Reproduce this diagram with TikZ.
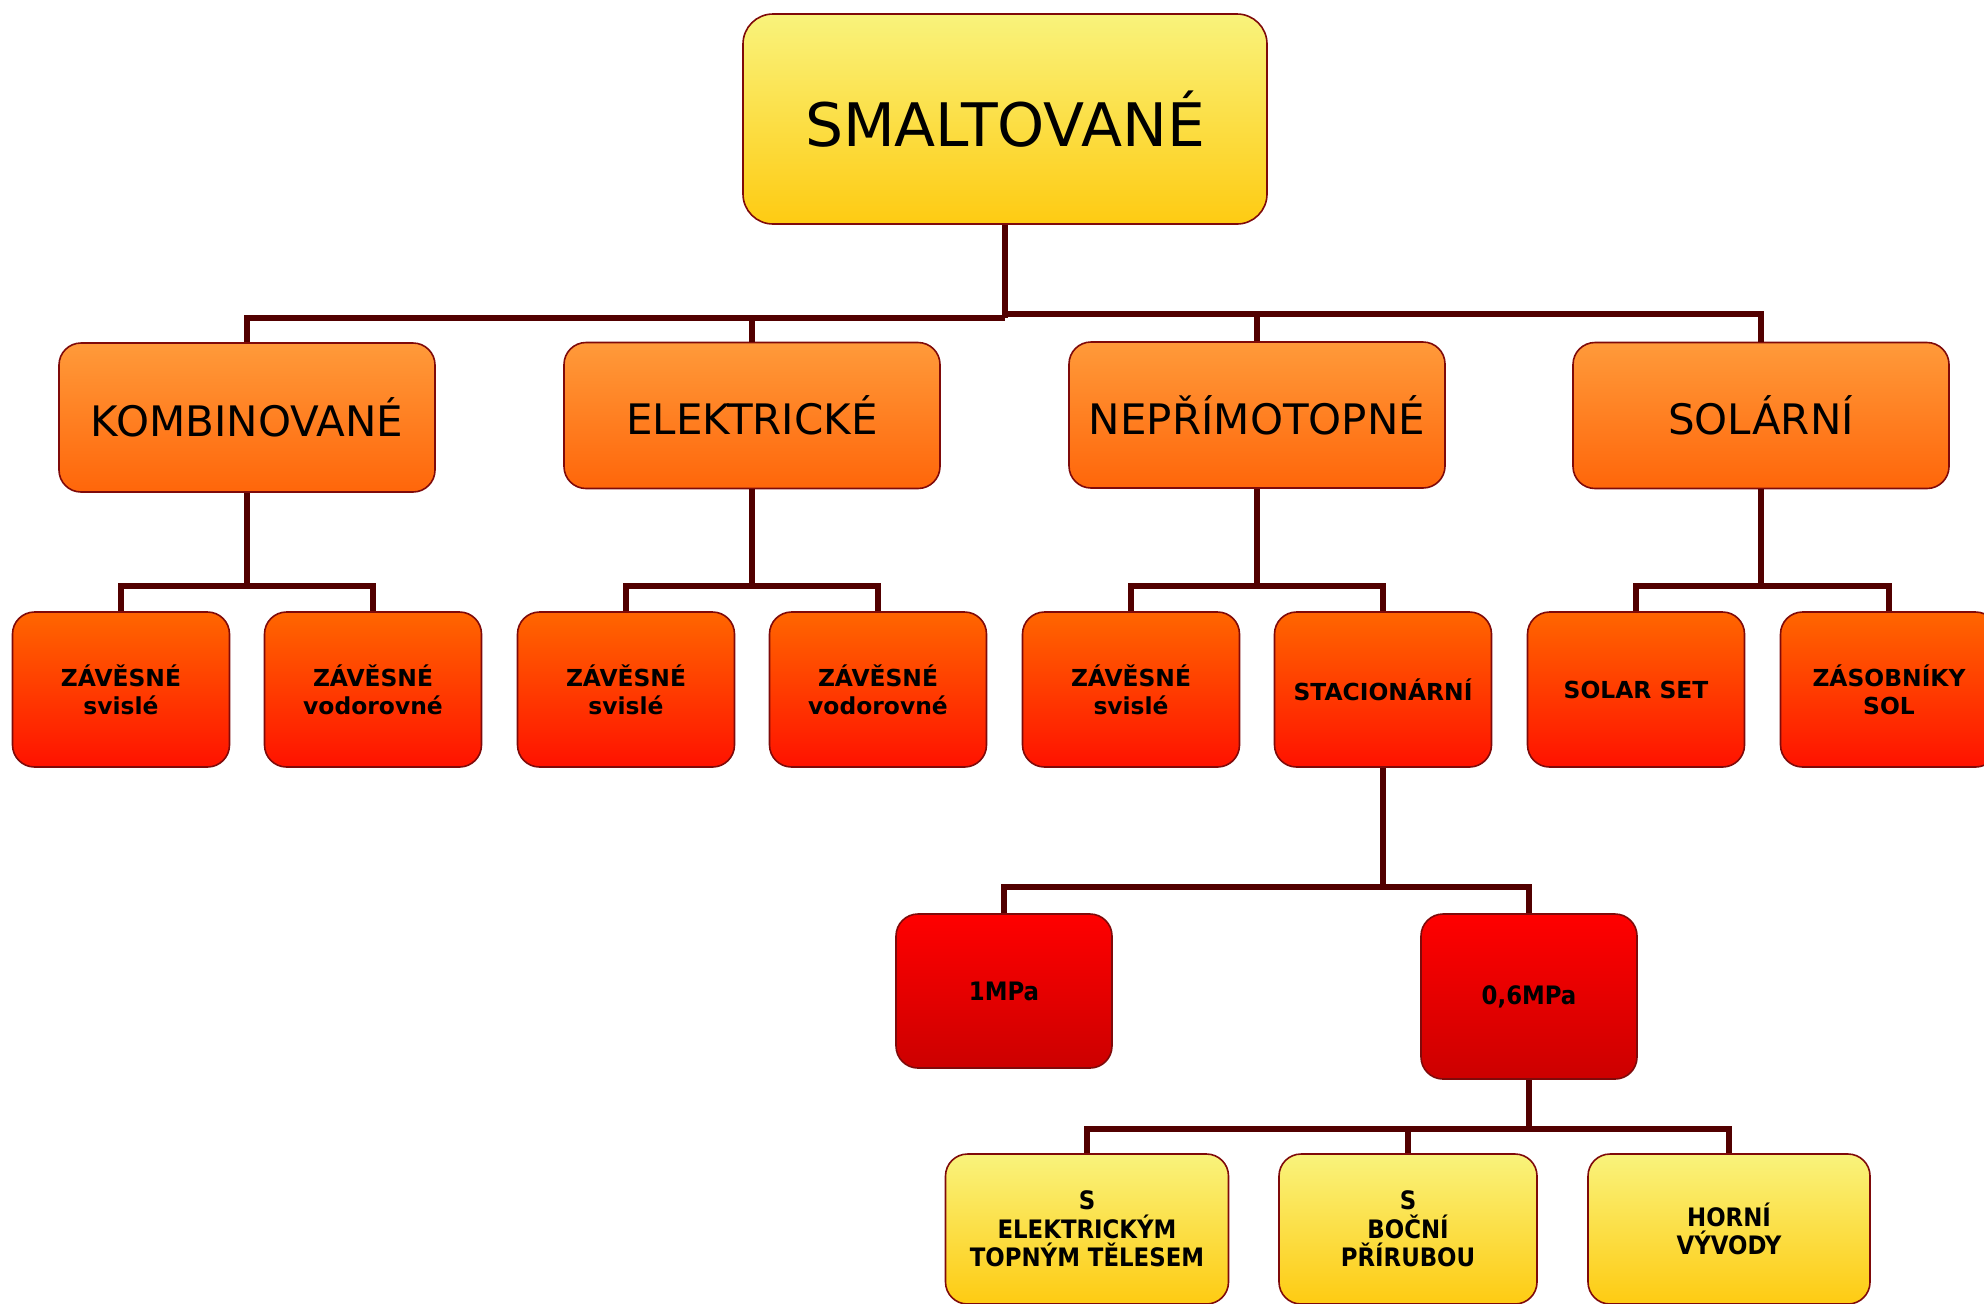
\documentclass[tikz,border=0pt]{standalone}
\usepackage{fontspec}
\setmainfont{DejaVu Sans}
\newfontfamily\condfont{DejaVu Sans Condensed}
\definecolor{yTop}{HTML}{F9F37C}
\definecolor{yBot}{HTML}{FECB12}
\definecolor{oTop}{HTML}{FF9A3A}
\definecolor{oBot}{HTML}{FF660A}
\definecolor{rTop}{HTML}{FF6600}
\definecolor{rBot}{HTML}{FF1200}
\definecolor{dTop}{HTML}{FF0000}
\definecolor{dBot}{HTML}{CC0000}
\definecolor{bord}{HTML}{7F0A0A}
\definecolor{conn}{HTML}{520000}
\tikzset{
  box/.style={draw=bord, line width=0.8pt, rounded corners=11pt, inner sep=0pt, align=center, text=black},
  rootbox/.style={box, rounded corners=15pt, top color=yTop, bottom color=yBot, minimum width=262pt, minimum height=105pt, font=\fontsize{30}{34}\selectfont},
  lonebox/.style={box, top color=oTop, bottom color=oBot, minimum width=188pt, minimum height=73pt, font=\fontsize{21}{25}\selectfont},
  ltwobox/.style={box, top color=rTop, bottom color=rBot, minimum width=108.5pt, minimum height=77.5pt, font=\fontsize{11.7}{14}\selectfont\bfseries},
  lthreebox/.style={box, top color=dTop, bottom color=dBot, minimum width=108pt, font=\fontsize{12.7}{14}\selectfont\condfont\bfseries},
  lfourbox/.style={box, top color=yTop, bottom color=yBot, minimum height=75pt, font=\fontsize{12.7}{14.2}\selectfont\condfont\bfseries},
  cn/.style={draw=conn, line width=3pt, line join=miter}
}
\begin{document}
\begin{tikzpicture}[x=0.5pt,y=-0.5pt]
\useasboundingbox (0,0) rectangle (1984,1303);
% root
\node[rootbox] (root) at (1005,119) {SMALTOVANÉ};
% level 1
\node[lonebox, minimum height=74.5pt] (k) at (247,417.5) {KOMBINOVANÉ};
\node[lonebox] (e) at (752,415.5) {ELEKTRICKÉ};
\node[lonebox] (n) at (1257,415) {NEPŘÍMOTOPNÉ};
\node[lonebox] (s) at (1761,415.5) {SOLÁRNÍ};
% level 2
\node[ltwobox] (k1) at (121,689.5) {ZÁVĚSNÉ\\svislé};
\node[ltwobox] (k2) at (373,689.5) {ZÁVĚSNÉ\\vodorovné};
\node[ltwobox] (e1) at (626,689.5) {ZÁVĚSNÉ\\svislé};
\node[ltwobox] (e2) at (878,689.5) {ZÁVĚSNÉ\\vodorovné};
\node[ltwobox] (n1) at (1131,689.5) {ZÁVĚSNÉ\\svislé};
\node[ltwobox] (n2) at (1383,689.5) {STACIONÁRNÍ};
\node[ltwobox] (s1) at (1636,689.5) {SOLAR SET};
\node[ltwobox] (s2) at (1889,689.5) {ZÁSOBNÍKY\\SOL};
% level 3
\node[lthreebox, minimum height=77pt] (p1) at (1004,991) {1MPa};
\node[lthreebox, minimum height=82.5pt] (p2) at (1529,996.5) {0,6MPa};
% level 4
\node[lfourbox, minimum width=141.5pt] (t1) at (1087,1229) {S\\ELEKTRICKÝM\\TOPNÝM TĚLESEM};
\node[lfourbox, minimum width=129pt] (t2) at (1408,1229) {S\\BOČNÍ\\PŘÍRUBOU};
\node[lfourbox, minimum width=141pt] (t3) at (1729,1229) {HORNÍ\\VÝVODY};
% bus coordinates
\coordinate (bA) at (0,318);
\coordinate (bB) at (0,314);
\coordinate (bK) at (0,586);
\coordinate (bS) at (0,887);
\coordinate (bP) at (0,1129);
% root connectors
\draw[cn] (root.south) -- (root.south|-bA);
\draw[cn] (k.north) -- (k.north|-bA) -- (root.south|-bA);
\draw[cn] (e.north) -- (e.north|-bA);
\draw[cn] (root.south|-bB) -- (s.north|-bB) -- (s.north);
\draw[cn] (n.north) -- (n.north|-bB);
% level 1 -> level 2
\draw[cn] (k.south) -- (k.south|-bK);
\draw[cn] (k1.north) -- (k1.north|-bK) -- (k2.north|-bK) -- (k2.north);
\draw[cn] (e.south) -- (e.south|-bK);
\draw[cn] (e1.north) -- (e1.north|-bK) -- (e2.north|-bK) -- (e2.north);
\draw[cn] (n.south) -- (n.south|-bK);
\draw[cn] (n1.north) -- (n1.north|-bK) -- (n2.north|-bK) -- (n2.north);
\draw[cn] (s.south) -- (s.south|-bK);
\draw[cn] (s1.north) -- (s1.north|-bK) -- (s2.north|-bK) -- (s2.north);
% stacionarni -> pressures
\draw[cn] (n2.south) -- (n2.south|-bS);
\draw[cn] (p1.north) -- (p1.north|-bS) -- (p2.north|-bS) -- (p2.north);
% 0,6MPa -> level 4
\draw[cn] (p2.south) -- (p2.south|-bP);
\draw[cn] (t1.north) -- (t1.north|-bP) -- (t3.north|-bP) -- (t3.north);
\draw[cn] (t2.north) -- (t2.north|-bP);
\end{tikzpicture}
\end{document}
